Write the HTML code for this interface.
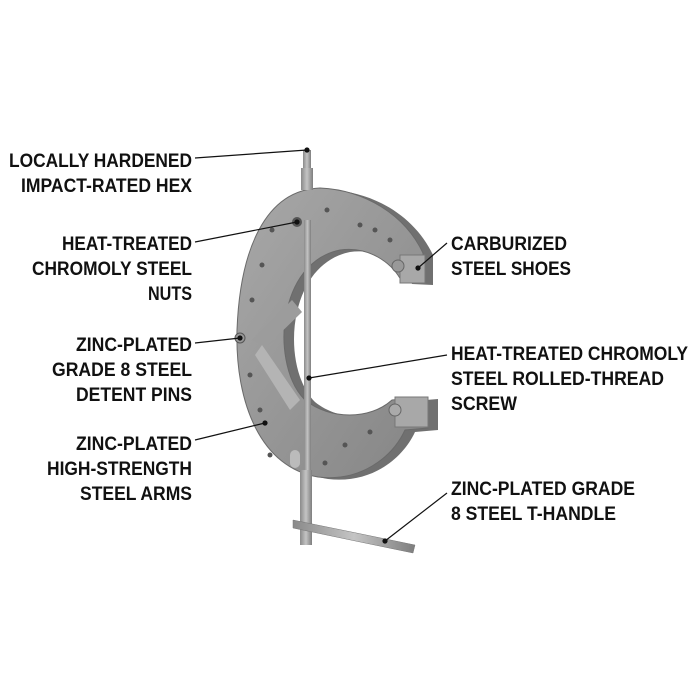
<!DOCTYPE html>
<html><head><style>
html,body{margin:0;padding:0;background:#fff;}
svg{display:block;}
text{font-family:"Liberation Sans Narrow","Liberation Sans",sans-serif;font-weight:bold;font-size:19px;fill:#111;}
</style></head><body>
<svg width="700" height="700" viewBox="0 0 700 700">
<defs>
<linearGradient id="g" x1="0" y1="0" x2="1" y2="1">
<stop offset="0" stop-color="#a8a8a8"/><stop offset="0.6" stop-color="#939393"/><stop offset="1" stop-color="#858585"/>
</linearGradient>
<linearGradient id="r" x1="0" y1="0" x2="1" y2="0">
<stop offset="0" stop-color="#8a8a8a"/><stop offset="0.5" stop-color="#c4c4c4"/><stop offset="1" stop-color="#7e7e7e"/>
</linearGradient>
<path id="c" d="M423 253 C405 215,365 190,320 188 C265 190,240 250,237 330 C235 405,262 468,318 477 C360 482,392 458,405 430 L428 428 L428 397 L392 400 C370 420,330 420,305 400 C285 380,280 340,287 310 C295 275,315 255,340 250 C368 246,392 262,402 282 L423 283 Z"/>
</defs>
<!-- back plate (depth) -->
<use href="#c" transform="translate(10,2)" fill="#707070"/>
<!-- main C plate -->
<use href="#c" fill="url(#g)" stroke="#6a6a6a" stroke-width="1"/>
<!-- inner arms -->
<path d="M252 340 L292 300 L302 312 L266 347 Z" fill="#9c9c9c"/>
<path d="M262 345 L300 400 L290 410 L255 355 Z" fill="#b4b4b4"/>
<!-- shoes -->
<rect x="400" y="255" width="25" height="28" fill="#a8a8a8" stroke="#777"/>
<circle cx="398" cy="266" r="6" fill="#999" stroke="#666"/>
<rect x="395" y="397" width="33" height="30" fill="#a8a8a8" stroke="#777"/>
<circle cx="395" cy="410" r="6" fill="#aaa" stroke="#666"/>
<!-- screw -->
<rect x="303" y="150" width="8" height="20" fill="url(#r)"/>
<rect x="301" y="168" width="12" height="22" fill="url(#r)"/>
<rect x="304" y="220" width="7" height="270" fill="url(#r)"/>
<rect x="300" y="470" width="12" height="75" fill="url(#r)"/>
<polygon points="293,520 415,545 413,553 293,528" fill="url(#r)" stroke="#777" stroke-width="0.5"/>
<!-- holes -->
<g fill="#555">
<circle cx="297" cy="222" r="5"/><circle cx="327" cy="210" r="2.5"/><circle cx="272" cy="230" r="2.5"/>
<circle cx="262" cy="265" r="2.5"/><circle cx="252" cy="300" r="2.5"/><circle cx="250" cy="375" r="2.5"/>
<circle cx="260" cy="410" r="2.5"/><circle cx="270" cy="455" r="2.5"/><circle cx="325" cy="463" r="2.5"/>
<circle cx="345" cy="445" r="2.5"/><circle cx="370" cy="432" r="2.5"/><circle cx="360" cy="225" r="2.5"/>
<circle cx="375" cy="230" r="2.5"/><circle cx="390" cy="240" r="2.5"/>
</g>
<rect x="290" y="450" width="10" height="18" rx="5" fill="#bbb"/>
<circle cx="240" cy="338" r="5" fill="#999" stroke="#555"/>
<!-- leader lines -->
<g stroke="#111" stroke-width="1.2" fill="#111">
<line x1="195" y1="158" x2="307" y2="150"/><circle cx="307" cy="150" r="2"/>
<line x1="195" y1="242" x2="297" y2="222"/><circle cx="297" cy="222" r="2"/>
<line x1="195" y1="343" x2="240" y2="338"/><circle cx="240" cy="338" r="2"/>
<line x1="195" y1="440" x2="265" y2="423"/><circle cx="265" cy="423" r="2"/>
<line x1="447" y1="243" x2="418" y2="268"/><circle cx="418" cy="268" r="2"/>
<line x1="447" y1="355" x2="309" y2="378"/><circle cx="309" cy="378" r="2"/>
<line x1="447" y1="493" x2="385" y2="541"/><circle cx="385" cy="541" r="2"/>
</g>
<!-- labels left -->
<g text-anchor="end">
<text x="192" y="167" textLength="183" lengthAdjust="spacingAndGlyphs">LOCALLY HARDENED</text>
<text x="192" y="192" textLength="171" lengthAdjust="spacingAndGlyphs">IMPACT-RATED HEX</text>
<text x="192" y="250" textLength="130" lengthAdjust="spacingAndGlyphs">HEAT-TREATED</text>
<text x="192" y="275" textLength="160" lengthAdjust="spacingAndGlyphs">CHROMOLY STEEL</text>
<text x="192" y="300" textLength="44" lengthAdjust="spacingAndGlyphs">NUTS</text>
<text x="192" y="351" textLength="116" lengthAdjust="spacingAndGlyphs">ZINC-PLATED</text>
<text x="192" y="376" textLength="140" lengthAdjust="spacingAndGlyphs">GRADE 8 STEEL</text>
<text x="192" y="401" textLength="116" lengthAdjust="spacingAndGlyphs">DETENT PINS</text>
<text x="192" y="450" textLength="116" lengthAdjust="spacingAndGlyphs">ZINC-PLATED</text>
<text x="192" y="475" textLength="145" lengthAdjust="spacingAndGlyphs">HIGH-STRENGTH</text>
<text x="192" y="500" textLength="112" lengthAdjust="spacingAndGlyphs">STEEL ARMS</text>
</g>
<!-- labels right -->
<text x="451" y="250" textLength="116" lengthAdjust="spacingAndGlyphs">CARBURIZED</text>
<text x="451" y="275" textLength="120" lengthAdjust="spacingAndGlyphs">STEEL SHOES</text>
<text x="451" y="360" textLength="237" lengthAdjust="spacingAndGlyphs">HEAT-TREATED CHROMOLY</text>
<text x="451" y="385" textLength="213" lengthAdjust="spacingAndGlyphs">STEEL ROLLED-THREAD</text>
<text x="451" y="410" textLength="66" lengthAdjust="spacingAndGlyphs">SCREW</text>
<text x="451" y="495" textLength="184" lengthAdjust="spacingAndGlyphs">ZINC-PLATED GRADE</text>
<text x="451" y="520" textLength="165" lengthAdjust="spacingAndGlyphs">8 STEEL T-HANDLE</text>
</svg>
</body></html>
